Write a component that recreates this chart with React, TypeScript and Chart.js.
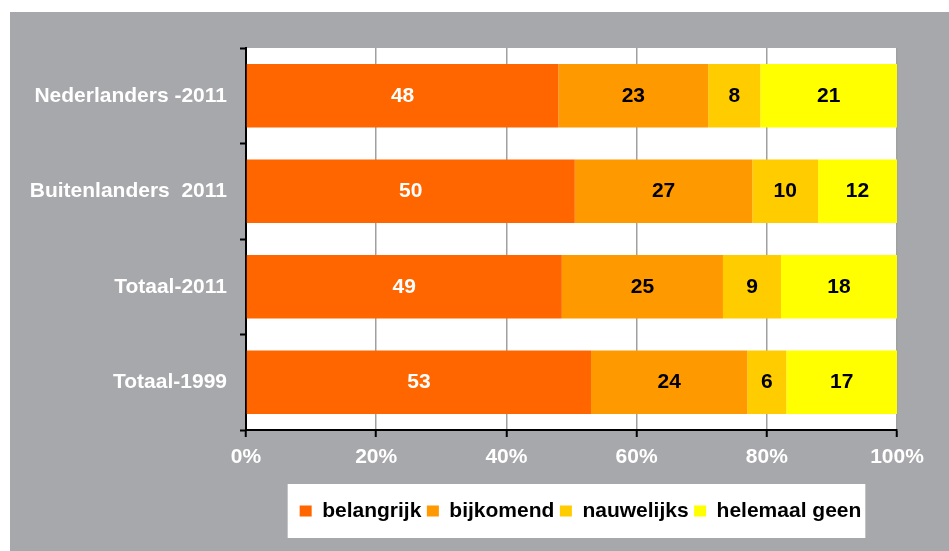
import React, { useEffect, useRef } from "react";
import { Chart, registerables } from "chart.js";

Chart.register(...registerables);

const categories = ["Nederlanders -2011", "Buitenlanders  2011", "Totaal-2011", "Totaal-1999"];
const belangrijk = [48, 50, 49, 53];
const bijkomend = [23, 27, 25, 24];
const nauwelijks = [8, 10, 9, 6];
const helemaalGeen = [21, 12, 18, 17];
const seriesNames = ["belangrijk", "bijkomend", "nauwelijks", "helemaal geen"];
const seriesColors = ["#FF6600", "#FF9900", "#FFCC00", "#FFFF00"];
const labelColors = ["#FFFFFF", "#000000", "#000000", "#000000"];
const xTickValues = [0, 20, 40, 60, 80, 100];

const FONT = '"Liberation Sans", Arial, sans-serif';

export default function App() {
  const canvasRef = useRef<HTMLCanvasElement | null>(null);

  useEffect(() => {
    const canvas = canvasRef.current;
    if (!canvas) return;
    const raw = [belangrijk, bijkomend, nauwelijks, helemaalGeen];
    const totals = categories.map((_, i) => raw.reduce((s, arr) => s + arr[i], 0));

    const bgPlugin = {
      id: "bgPlugin",
      afterLayout(chart: any) {
        const lg = chart.legend;
        if (lg) {
          lg.left += 9;
          lg.right += 9;
        }
      },
      beforeDraw(chart: any) {
        const { ctx, chartArea: a } = chart;
        ctx.save();
        ctx.fillStyle = "#FFFFFF";
        ctx.fillRect(a.left, a.top, a.right - a.left, a.bottom - a.top);
        const lg = chart.legend;
        if (lg && lg.legendHitBoxes && lg.legendHitBoxes.length) {
          const hb = lg.legendHitBoxes;
          const first = hb[0];
          const last = hb[hb.length - 1];
          const left = first.left - 12;
          const right = last.left + last.width + 4;
          const cy = first.top + first.height / 2;
          ctx.fillRect(left, cy - 27, right - left, 54);
        }
        ctx.restore();
      },
    };

    const labelPlugin = {
      id: "barLabels",
      afterDatasetsDraw(chart: any) {
        const { ctx } = chart;
        ctx.save();
        ctx.font = `bold 21px ${FONT}`;
        ctx.textAlign = "center";
        ctx.textBaseline = "middle";
        chart.data.datasets.forEach((ds: any, di: number) => {
          const meta = chart.getDatasetMeta(di);
          meta.data.forEach((el: any, i: number) => {
            const cx = (el.x + el.base) / 2;
            ctx.fillStyle = labelColors[di];
            ctx.fillText(String(raw[di][i]), cx, el.y);
          });
        });
        ctx.restore();
      },
    };

    const chart = new Chart(canvas, {
      type: "bar",
      data: {
        labels: categories,
        datasets: raw.map((arr, di) => ({
          label: seriesNames[di],
          data: arr.map((v, i) => (v / totals[i]) * 100),
          backgroundColor: seriesColors[di],
          borderWidth: 0,
          categoryPercentage: 1,
          barPercentage: 0.667,
        })),
      },
      options: {
        indexAxis: "y",
        responsive: false,
        animation: false,
        layout: { padding: { top: 36, right: 52, left: 0, bottom: 19.5 } },
        plugins: {
          tooltip: { enabled: false },
          legend: {
            position: "bottom",
            fullSize: false,
            labels: {
              boxWidth: 12,
              boxHeight: 11,
              padding: 5.5,
              color: "#000000",
              font: { family: FONT, size: 21, weight: "bold" },
            },
          },
        },
        scales: {
          x: {
            stacked: true,
            min: 0,
            max: 100,
            afterFit(scale: any) {
              scale.height = 65;
            },
            afterBuildTicks(scale: any) {
              scale.ticks = xTickValues.map((v) => ({ value: v }));
            },
            ticks: {
              color: "#FFFFFF",
              padding: 8,
              font: { family: FONT, size: 21, weight: "bold" },
              callback: (v: any) => `${v}%`,
            },
            grid: {
              color: "#A0A0A0",
              lineWidth: 1.5,
              drawTicks: true,
              tickLength: 7,
              tickColor: "#000000",
              tickWidth: 2,
            },
            border: { color: "#000000", width: 2 },
          },
          y: {
            stacked: true,
            afterFit(scale: any) {
              scale.width = 236;
            },
            ticks: {
              color: "#FFFFFF",
              padding: 13,
              font: { family: FONT, size: 21, weight: "bold" },
            },
            grid: {
              offset: true,
              drawOnChartArea: false,
              drawTicks: true,
              tickLength: 6,
              tickColor: "#000000",
              tickWidth: 2,
            },
            border: { color: "#000000", width: 2 },
          },
        },
      },
      plugins: [bgPlugin, labelPlugin],
    } as any);

    return () => chart.destroy();
  }, []);

  return (
    <div style={{ position: "fixed", left: 0, top: 0, width: 949, height: 551, background: "#FFFFFF" }}>
      <div style={{ position: "absolute", left: 10, top: 12, width: 939, height: 539, background: "#A7A8AB" }}>
        <canvas ref={canvasRef} width={939} height={539} style={{ display: "block" }} />
      </div>
    </div>
  );
}
